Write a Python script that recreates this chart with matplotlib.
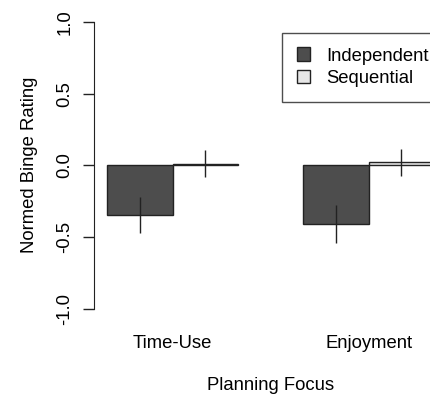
import numpy as np
import matplotlib
matplotlib.use("Agg")
import matplotlib.pyplot as plt

plt.rcParams['font.family'] = ['Liberation Sans', 'DejaVu Sans']
plt.rcParams['axes.unicode_minus'] = False

# data
focus = ["Time-Use", "Enjoyment"]
conditions = ["Independent", "Sequential"]
independent_mean = [-0.345, -0.41]
independent_se = [0.126, 0.133]
sequential_mean = [0.012, 0.022]
sequential_se = [0.095, 0.094]
yticks = [-1.0, -0.5, 0.0, 0.5, 1.0]
ytick_labels = ["-1.0", "-0.5", "0.0", "0.5", "1.0"]

colors = ["#4d4d4d", "#e6e6e6"]
fs = 13.3

W, H = 430, 396
fig = plt.figure(figsize=(W / 100, H / 100), dpi=100)
# plot region runs past the right edge of the picture (the original is cropped)
ax = fig.add_axes([94.3 / W, 1 - 320.2 / H, (447 - 94.3) / W, (320.2 - 10.4) / H])

# R-style beside barplot: group starts at 1, 4 ; bar width 1
group_left = np.array([1.0, 4.0])
x_ind = group_left + 0.5
x_seq = group_left + 1.5

ax.bar(x_ind, independent_mean, width=1.0, color=colors[0], edgecolor="#222222",
       linewidth=1.0, label=conditions[0])
ax.bar(x_seq, sequential_mean, width=1.0, color=colors[1], edgecolor="#222222",
       linewidth=1.0, label=conditions[1])

ax.vlines(x_ind, np.array(independent_mean) - independent_se,
          np.array(independent_mean) + independent_se, color="#222222", lw=1.0)
ax.vlines(x_seq, np.array(sequential_mean) - sequential_se,
          np.array(sequential_mean) + sequential_se, color="#222222", lw=1.0)

ax.set_xlim(0.8, 6.2)
ax.set_ylim(-1.08, 1.08)

for s in ["top", "right", "bottom"]:
    ax.spines[s].set_visible(False)
ax.spines["left"].set_bounds(-1, 1)
ax.spines["left"].set_color("#222222")

ax.set_yticks(yticks)
ax.set_yticklabels(ytick_labels, rotation=90, va="center", fontsize=fs)
ax.tick_params(axis="y", length=8, width=1.0, pad=7, color="#222222")

ax.set_xticks(group_left + 1.0)
ax.set_xticklabels(focus, fontsize=fs)
ax.tick_params(axis="x", length=0, pad=11)

ax.set_xlabel("Planning Focus", fontsize=fs, labelpad=18)
ax.set_ylabel("Normed Binge Rating", fontsize=fs, labelpad=13)

leg = ax.legend(loc="upper left", bbox_to_anchor=(282.3 / W, 1 - 32.7 / H),
                bbox_transform=fig.transFigure, borderaxespad=0, fontsize=fs,
                frameon=True, fancybox=False, edgecolor="#222222",
                handlelength=0.72, handleheight=0.72, handletextpad=0.85,
                borderpad=0.8, labelspacing=0.3)
leg.get_frame().set_linewidth(1.0)

fig.savefig("out.png", dpi=100)
